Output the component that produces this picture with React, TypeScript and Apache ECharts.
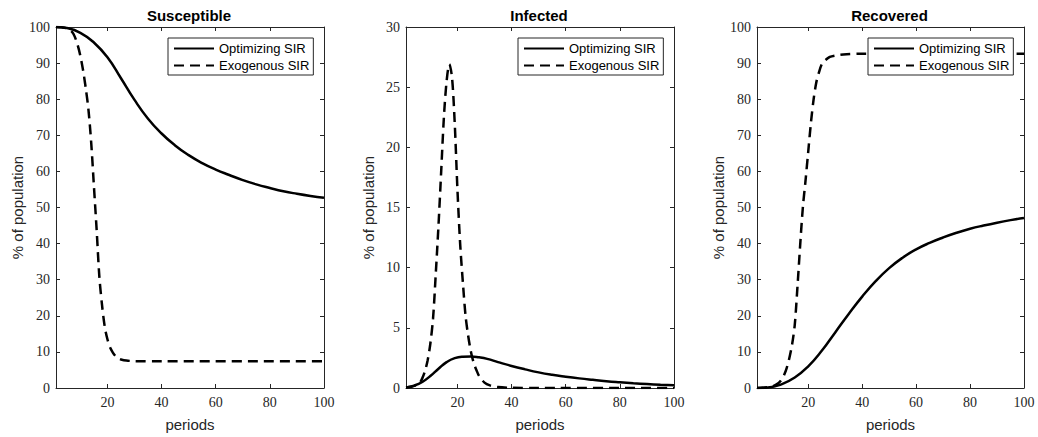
import React, { useEffect, useRef } from 'react';
import * as echarts from 'echarts';

const xTicks = [20, 40, 60, 80, 100];
const seriesNames = ['Optimizing SIR', 'Exogenous SIR'];
const panelTitles = ['Susceptible', 'Infected', 'Recovered'];
const yMax = [100, 30, 100];
const yStep = [10, 5, 10];

const susceptibleOptimizing = [
  [1, 100], [5, 99.7], [10, 98.4], [15, 95.7], [20, 91.6], [25, 85.8], [30, 79.8], [35, 74.6],
  [40, 70.5], [45, 67.2], [50, 64.5], [55, 62.3], [60, 60.5], [65, 59.0], [70, 57.6], [75, 56.4],
  [80, 55.4], [85, 54.5], [90, 53.8], [95, 53.2], [100, 52.7],
];
const susceptibleExogenous = [
  [1, 100], [3, 99.9], [5, 99.6], [7, 98.6], [8, 97.2], [9, 95], [10, 92], [11, 88], [12, 83],
  [13, 77], [14, 68], [15, 56], [16, 44], [17, 31], [18, 23], [19, 17], [20, 13.5], [21, 11.2],
  [22, 9.8], [23, 8.8], [24, 8.2], [25, 7.9], [27, 7.6], [30, 7.45], [40, 7.4], [100, 7.4],
];
const infectedOptimizing = [
  [1, 0.05], [4, 0.2], [7, 0.5], [10, 1.0], [13, 1.6], [16, 2.15], [19, 2.48], [22, 2.6], [25, 2.62],
  [28, 2.55], [31, 2.42], [35, 2.15], [40, 1.83], [45, 1.55], [50, 1.3], [55, 1.1], [60, 0.94],
  [65, 0.8], [70, 0.68], [75, 0.57], [80, 0.48], [85, 0.4], [90, 0.33], [95, 0.27], [100, 0.22],
];
const infectedExogenous = [
  [1, 0.05], [3, 0.1], [5, 0.25], [6, 0.4], [7, 0.8], [8, 1.4], [9, 2.3], [10, 3.7], [11, 5.8],
  [12, 9.5], [13, 13.5], [14, 18], [15, 22.5], [16, 25.5], [17, 26.9], [18, 25.8], [19, 22],
  [20, 16.5], [21, 12], [22, 8.8], [23, 6.0], [24, 4.3], [25, 3.0], [26, 2.1], [27, 1.5], [28, 1.0],
  [30, 0.45], [32, 0.22], [35, 0.08], [40, 0.02], [50, 0], [100, 0],
];
const recoveredOptimizing = [
  [1, 0], [5, 0.12], [10, 1.0], [15, 2.9], [20, 6.0], [25, 10.3], [30, 15.4], [35, 20.5], [40, 25.3],
  [45, 29.6], [50, 33.2], [55, 36.1], [60, 38.4], [65, 40.2], [70, 41.7], [75, 43.0], [80, 44.1],
  [85, 45.0], [90, 45.8], [95, 46.5], [100, 47.1],
];
const recoveredExogenous = [
  [1, 0], [5, 0.2], [7, 0.5], [9, 1.4], [10, 2.2], [11, 3.5], [12, 5.5], [13, 8.3], [14, 12],
  [15, 17.5], [16, 28], [17, 39.5], [18, 50], [19, 57.5], [20, 65.5], [21, 73.5], [22, 80],
  [23, 84.7], [24, 87.5], [25, 89.7], [26, 90.6], [28, 91.7], [30, 92.1], [33, 92.4], [40, 92.6],
  [100, 92.6],
];

const panelData = [
  [susceptibleOptimizing, susceptibleExogenous],
  [infectedOptimizing, infectedExogenous],
  [recoveredOptimizing, recoveredExogenous],
];

const grids = [
  { left: 56, top: 27, width: 268, height: 363 },
  { left: 406, top: 27, width: 268, height: 363 },
  { left: 757, top: 27, width: 267, height: 363 },
];
const legendLefts = [168, 518, 868];

export default function App() {
  const ref = useRef<HTMLDivElement>(null);
  useEffect(() => {
    if (!ref.current) return;
    const chart = echarts.init(ref.current, undefined, { renderer: 'svg' });
    const axisColor = '#262626';
    const lineStyle = { color: axisColor, width: 1 };
    const xAxis: any[] = [];
    const yAxis: any[] = [];
    const series: any[] = [];
    const graphic: any[] = [];
    const legend: any[] = [];
    grids.forEach((g, i) => {
      xAxis.push({
        type: 'value', gridIndex: i, position: 'bottom', min: 1, max: 100,
        axisLine: { show: true, onZero: false, lineStyle },
        axisTick: { show: true, inside: true, length: 4, customValues: xTicks, lineStyle },
        axisLabel: { customValues: xTicks, fontFamily: 'Liberation Serif', fontSize: 14, color: axisColor, margin: 7 },
        splitLine: { show: false },
        name: 'periods', nameLocation: 'middle', nameGap: 29,
        nameTextStyle: { fontFamily: 'Liberation Sans', fontSize: 15, color: axisColor },
      });
      xAxis.push({
        type: 'value', gridIndex: i, position: 'top', min: 1, max: 100,
        axisLine: { show: true, onZero: false, lineStyle },
        axisTick: { show: true, inside: true, length: 4, customValues: xTicks, lineStyle },
        axisLabel: { show: false, customValues: xTicks },
        splitLine: { show: false },
      });
      yAxis.push({
        type: 'value', gridIndex: i, position: 'left', min: 0, max: yMax[i], interval: yStep[i],
        axisLine: { show: true, onZero: false, lineStyle },
        axisTick: { show: true, inside: true, length: 4, lineStyle },
        axisLabel: { fontFamily: 'Liberation Serif', fontSize: 14, color: axisColor, margin: 6 },
        splitLine: { show: false },
        name: '% of population', nameLocation: 'middle', nameGap: 30,
        nameTextStyle: { fontFamily: 'Liberation Sans', fontSize: 15, color: axisColor },
      });
      yAxis.push({
        type: 'value', gridIndex: i, position: 'right', min: 0, max: yMax[i], interval: yStep[i],
        axisLine: { show: true, onZero: false, lineStyle },
        axisTick: { show: true, inside: true, length: 4, lineStyle },
        axisLabel: { show: false },
        splitLine: { show: false },
      });
      panelData[i].forEach((data, k) => {
        series.push({
          type: 'line', name: seriesNames[k], xAxisIndex: 2 * i, yAxisIndex: 2 * i,
          data, smooth: k === 0 ? 0.5 : 0.3, symbol: 'none', showSymbol: false,
          lineStyle: { color: '#000', width: 2.5, type: k === 0 ? 'solid' : [10, 6] },
          itemStyle: { color: '#000' },
          z: 2,
        });
      });
      graphic.push({
        type: 'text', x: g.left + g.width / 2 - 1, y: 15, z: 20,
        style: {
          text: panelTitles[i], textAlign: 'center', textVerticalAlign: 'middle',
          font: 'bold 15px "Liberation Sans"', fill: '#000',
        },
      });
      legend.push({
        left: legendLefts[i], top: 38, orient: 'vertical', data: seriesNames,
        itemWidth: 40, itemHeight: 14, itemGap: 4, padding: [4, 4, 3, 5],
        borderColor: axisColor, borderWidth: 1, backgroundColor: '#fff',
        itemStyle: { opacity: 0 },
        textStyle: { fontFamily: 'Liberation Sans', fontSize: 13, color: '#000' },
        selectedMode: false, z: 10,
      });
    });
    chart.setOption({
      animation: false,
      backgroundColor: '#fff',
      grid: grids.map((g) => ({ ...g, containLabel: false })),
      xAxis, yAxis, series, legend, graphic,
    });
    return () => chart.dispose();
  }, []);
  return (
    <div
      ref={ref}
      style={{ position: 'fixed', left: 0, top: 0, width: 1038, height: 437, background: '#fff' }}
    />
  );
}
